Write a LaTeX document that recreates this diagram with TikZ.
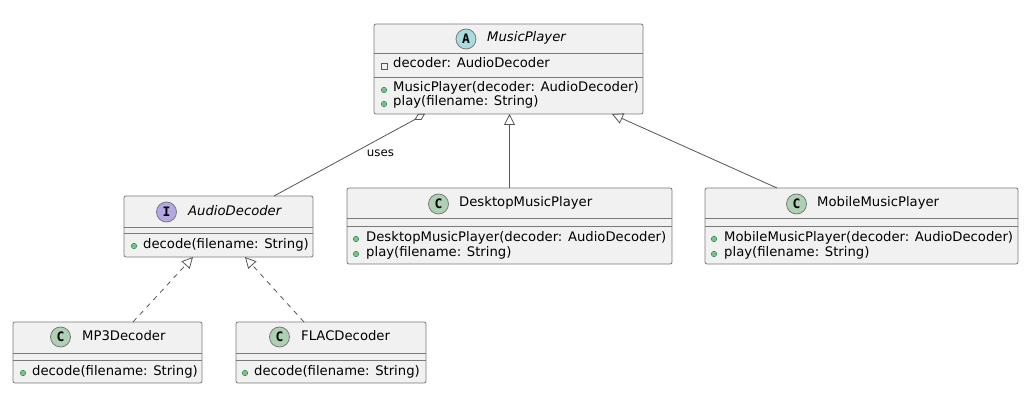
\documentclass[tikz,border=0pt]{standalone}
\usepackage{fontspec}
\setmainfont{DejaVu Sans}
\newfontfamily\spotfont{DejaVu Sans Mono}
\usetikzlibrary{arrows.meta,calc}

\definecolor{boxfill}{HTML}{F1F1F1}
\definecolor{boxline}{HTML}{7A7A7A}
\definecolor{linkcol}{HTML}{555555}
\definecolor{abstractspot}{HTML}{A9DCDF}
\definecolor{classspot}{HTML}{ADD1B2}
\definecolor{ifacespot}{HTML}{B4A7E5}
\definecolor{pubfill}{HTML}{84BE84}
\definecolor{publine}{HTML}{038048}
\definecolor{privline}{HTML}{C82930}

\newcommand{\umlsize}{\fontsize{13.2}{15}\selectfont}

\tikzset{
  cls/.style={draw=boxline, fill=boxfill, rounded corners=2pt, line width=0.8pt, inner sep=0pt, outer sep=0pt},
  sepline/.style={draw=boxline, line width=0.8pt},
  spot/.style={circle, draw=boxline, line width=0.8pt, minimum size=20pt, inner sep=0pt, font=\spotfont\bfseries\fontsize{13}{13}\selectfont},
  title/.style={anchor=west, inner sep=0pt, text height=0.72em, text depth=0.12em, font=\umlsize\itshape},
  member/.style={anchor=west, inner sep=0pt, text height=0.72em, text depth=0.12em, font=\umlsize},
  pub/.style={circle, fill=pubfill, draw=publine, line width=0.4pt, minimum size=5.5pt, inner sep=0pt},
  priv/.style={draw=privline, line width=0.7pt, minimum size=6pt, inner sep=0pt},
  extends/.style={-{Triangle[open,length=11pt,width=11pt]}, draw=linkcol, line width=0.8pt},
  implements/.style={extends, dash pattern=on 5pt off 5pt},
  aggregation/.style={-{Diamond[open,length=12pt,width=7pt]}, draw=linkcol, line width=0.8pt}
}

\begin{document}
\begin{tikzpicture}[x=1pt,y=-1pt]
\useasboundingbox[fill=white] (0,0) rectangle (1029,417);

% MusicPlayer
\node[cls, minimum width=269, minimum height=90] (mp) at (508.5,69) {};
\draw[sepline] ($(mp.north west)+(0,29)$) -- ($(mp.north east)+(0,29)$);
\draw[sepline] ($(mp.north west)+(0,53)$) -- ($(mp.north east)+(0,53)$);
\node[spot, fill=abstractspot] (mpspot) at (466,39) {A};
\node[title] (mptitle) at (487,39) {MusicPlayer};
\node[priv] (mpattrdot) at (384,66) {};
\node[member] (mpattr) at (393,65) {decoder: AudioDecoder};
\node[pub] (mpopdot) at (384,90) {};
\node[member] (mpop) at (393,89) {MusicPlayer(decoder: AudioDecoder)};
\node[pub] (mpplaydot) at (384,104) {};
\node[member] (mpplay) at (393,103) {play(filename: String)};

% AudioDecoder
\node[cls, minimum width=189, minimum height=61] (ad) at (218.5,226.5) {};
\draw[sepline] ($(ad.north west)+(0,31)$) -- ($(ad.north east)+(0,31)$);
\draw[sepline] ($(ad.north west)+(0,37)$) -- ($(ad.north east)+(0,37)$);
\node[spot, fill=ifacespot] (adspot) at (166.5,212) {I};
\node[title] (adtitle) at (188,212) {AudioDecoder};
\node[pub] (addecdot) at (134,246) {};
\node[member] (addec) at (143,245) {decode(filename: String)};

% MP3Decoder
\node[cls, minimum width=189, minimum height=61] (mp3) at (107.5,352.5) {};
\draw[sepline] ($(mp3.north west)+(0,31)$) -- ($(mp3.north east)+(0,31)$);
\draw[sepline] ($(mp3.north west)+(0,38)$) -- ($(mp3.north east)+(0,38)$);
\node[spot, fill=classspot] (mp3spot) at (60.5,337) {C};
\node[member] (mp3title) at (82,337) {MP3Decoder};
\node[pub] (mp3decdot) at (23,373) {};
\node[member] (mp3dec) at (32,372) {decode(filename: String)};

% FLACDecoder
\node[cls, minimum width=190, minimum height=61] (flac) at (331,352.5) {};
\draw[sepline] ($(flac.north west)+(0,31)$) -- ($(flac.north east)+(0,31)$);
\draw[sepline] ($(flac.north west)+(0,38)$) -- ($(flac.north east)+(0,38)$);
\node[spot, fill=classspot] (flacspot) at (279.5,337) {C};
\node[member] (flactitle) at (301,337) {FLACDecoder};
\node[pub] (flacdecdot) at (245,373) {};
\node[member] (flacdec) at (254,372) {decode(filename: String)};

% DesktopMusicPlayer
\node[cls, minimum width=325, minimum height=76] (desk) at (509.5,226) {};
\draw[sepline] ($(desk.north west)+(0,30.5)$) -- ($(desk.north east)+(0,30.5)$);
\draw[sepline] ($(desk.north west)+(0,38)$) -- ($(desk.north east)+(0,38)$);
\node[spot, fill=classspot] (deskspot) at (438.5,204) {C};
\node[member] (desktitle) at (459,204) {DesktopMusicPlayer};
\node[pub] (deskopdot) at (356,239) {};
\node[member] (deskop) at (366,238) {DesktopMusicPlayer(decoder: AudioDecoder)};
\node[pub] (deskplaydot) at (356,254) {};
\node[member] (deskplay) at (366,253) {play(filename: String)};

% MobileMusicPlayer
\node[cls, minimum width=313, minimum height=76] (mob) at (861.5,226) {};
\draw[sepline] ($(mob.north west)+(0,30.5)$) -- ($(mob.north east)+(0,30.5)$);
\draw[sepline] ($(mob.north west)+(0,38)$) -- ($(mob.north east)+(0,38)$);
\node[spot, fill=classspot] (mobspot) at (796.5,204) {C};
\node[member] (mobtitle) at (817,204) {MobileMusicPlayer};
\node[pub] (mobopdot) at (714,239) {};
\node[member] (mobop) at (724,238) {MobileMusicPlayer(decoder: AudioDecoder)};
\node[pub] (mobplaydot) at (714,254) {};
\node[member] (mobplay) at (724,253) {play(filename: String)};

% links
\draw[aggregation] ($(ad.north west)+(150,0)$) -- ($(mp.south west)+(51,0)$)
  node[pos=.52, right=14pt, inner sep=0pt, font=\fontsize{11.8}{13}\selectfont] (useslbl) {uses};
\draw[extends] (desk.north) -- (desk.north |- mp.south);
\draw[extends] ($(mob.north west)+(72,0)$) -- ($(mp.south east)+(-31,0)$);
\draw[implements] ($(mp3.north west)+(120,0)$) -- ($(ad.south west)+(69,0)$);
\draw[implements] ($(flac.north west)+(68,0)$) -- ($(ad.south west)+(121,0)$);
\end{tikzpicture}
\end{document}
